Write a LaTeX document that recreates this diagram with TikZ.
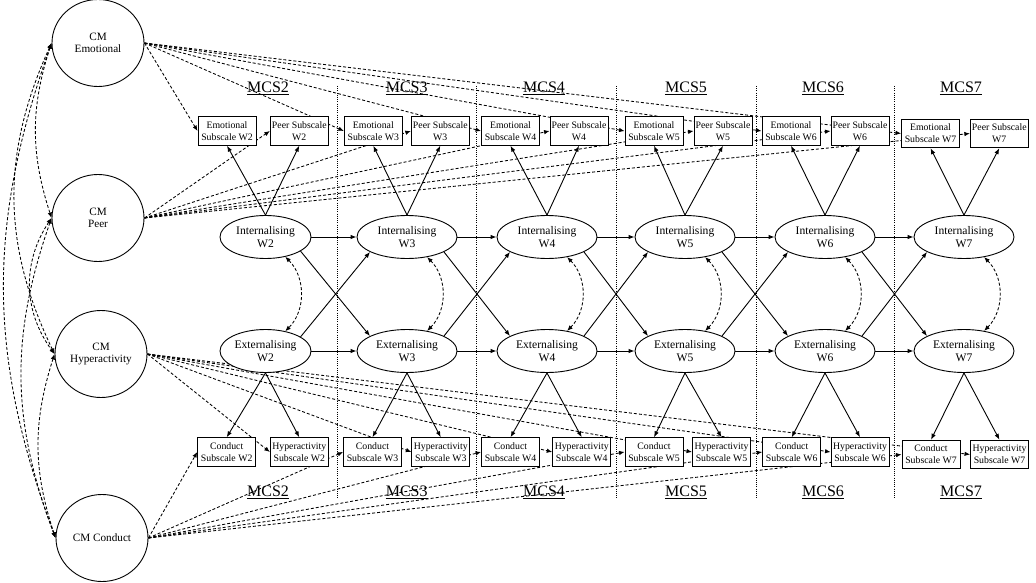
\documentclass[tikz,border=0pt]{standalone}
\usepackage{fontspec}
\setmainfont{Liberation Serif}
\usetikzlibrary{shapes.geometric,arrows.meta,backgrounds,calc}
\begin{document}
\begin{tikzpicture}[x=1pt,y=-1pt,
  subbox/.style={draw,fill=white,line width=0.9pt,minimum width=58pt,minimum height=28.5pt,inner sep=0.5pt,align=center,font=\fontsize{9.8}{12.2}\selectfont},
  latnode/.style={ellipse,draw,fill=white,line width=0.9pt,minimum width=100pt,minimum height=43pt,inner sep=0pt,align=center,font=\fontsize{11.6}{13.6}\selectfont},
  cmnode/.style={ellipse,draw,fill=white,line width=0.9pt,minimum width=92pt,minimum height=87pt,inner sep=0pt,align=center,font=\fontsize{11.2}{12.6}\selectfont},
  sarr/.style={line width=0.9pt,-{Latex[length=6pt,width=4.5pt]}},
  darr/.style={line width=0.85pt,dash pattern=on 3pt off 2pt,-{Latex[length=5.5pt,width=4.5pt]}},
  dcov/.style={line width=0.85pt,dash pattern=on 3pt off 2pt,{Latex[length=5.5pt,width=4.5pt]}-{Latex[length=5.5pt,width=4.5pt]}},
  divl/.style={line width=0.7pt,dash pattern=on 1pt off 1.2pt},
  mcslab/.style={font=\fontsize{16}{16}\selectfont,inner sep=0pt,anchor=base},
  ulinestyle/.style={line width=1.7pt}
]
\useasboundingbox (0,0) rectangle (1036,583);

% latent CM factors
\node[cmnode] (cE) at (98,43) {CM\\Emotional};
\node[cmnode] (cP) at (98,218) {CM\\Peer};
\node[cmnode] (cH) at (101,354) {CM\\Hyperactivity};
\node[cmnode] (cC) at (102,538) {CM Conduct};

% top boxes
\foreach \w/\ex/\px/\y in {2/227/299.3/131, 3/373.3/440.3/131, 4/510.5/579/131, 5/654/723/131, 6/791/860/131, 7/930.5/999.3/133.5}{
  \node[subbox] (em\w) at (\ex,\y) {Emotional\\Subscale W\w};
  \node[subbox] (pe\w) at (\px,\y) {Peer Subscale\\W\w};
}
% bottom boxes
\foreach \w/\cx/\hx/\y in {2/226.7/299.3/452, 3/372.5/440.8/452, 4/510.5/581.7/452, 5/654/721.5/452, 6/791.7/860/452, 7/931/999.5/454.5}{
  \node[subbox] (co\w) at (\cx,\y) {Conduct\\Subscale W\w};
  \node[subbox] (hy\w) at (\hx,\y) {Hyperactivity\\Subscale W\w};
}
% latent ellipses
\node[latnode,minimum width=91pt] (in2) at (265.5,237) {Internalising\\W2};
\node[latnode,minimum width=91pt] (ex2) at (265.5,351) {Externalising\\W2};
\foreach \w/\x in {3/407, 4/547, 5/685, 6/825, 7/964}{
  \node[latnode] (in\w) at (\x,237) {Internalising\\W\w};
  \node[latnode] (ex\w) at (\x,351) {Externalising\\W\w};
}
% MCS labels
\foreach \w/\x in {2/268, 3/406.7, 4/544, 5/686, 6/823, 7/961}{
  \node[mcslab] (mt\w) at (\x,92.5) {MCS\w};
  \draw[ulinestyle] ([yshift=-2pt]mt\w.base west) -- ([yshift=-2pt]mt\w.base east);
  \node[mcslab] (mb\w) at (\x,496.5) {MCS\w};
  \draw[ulinestyle] ([yshift=-2pt]mb\w.base west) -- ([yshift=-2pt]mb\w.base east);
}

\begin{scope}[on background layer]
  % dividers
  \foreach \x in {337,476,616,756,894}{
    \coordinate (dt\x) at (\x,86);
    \coordinate (db\x) at (\x,499);
    \draw[divl] (dt\x) -- (db\x);
  }
  % CM effects on subscales
  \foreach \w in {2,...,7}{
    \draw[darr] (cE.east) -- (em\w.west);
    \draw[darr] (cP.east) -- (pe\w.west);
    \draw[darr] (cH.east) -- (hy\w.west);
    \draw[darr] (cC.east) -- (co\w.west);
    \draw[sarr] (in\w.north) -- (em\w.south);
    \draw[sarr] (in\w.north) -- (pe\w.south);
    \draw[sarr] (ex\w.south) -- (co\w.north);
    \draw[sarr] (ex\w.south) -- (hy\w.north);
    \draw[dcov] (in\w.-45) to[bend left=45] (ex\w.45);
  }
  % autoregressive and cross-lagged paths
  \foreach \w/\n in {2/3,3/4,4/5,5/6,6/7}{
    \draw[sarr] (in\w.east) -- (in\n.west);
    \draw[sarr] (ex\w.east) -- (ex\n.west);
    \draw[sarr] (in\w.-22) -- (ex\n.158);
    \draw[sarr] (ex\w.22) -- (in\n.202);
  }
  % covariances among CM factors
  \draw[dcov] (cE.west) to[bend right=18] (cP.west);
  \draw[dcov] (cE.west) to[bend right=25] (cH.west);
  \draw[dcov] (cE.west) to[bend right=20] (cC.west);
  \draw[dcov] (cP.west) to[bend right=35] (cH.west);
  \draw[dcov] (cP.west) to[bend right=20] (cC.west);
  \draw[dcov] (cH.west) to[bend right=18] (cC.west);
\end{scope}
\end{tikzpicture}
\end{document}
